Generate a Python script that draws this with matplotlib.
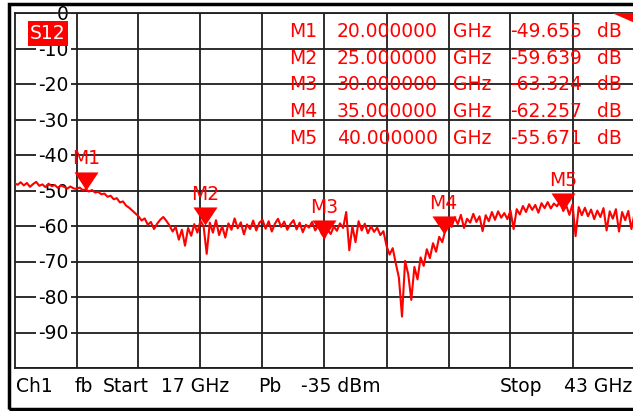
"""VNA screenshot style plot of S12 over 17-43 GHz with five markers."""

import matplotlib.pyplot as plt
import numpy as np
from matplotlib.path import Path
from matplotlib.patches import Polygon, Rectangle
from matplotlib.transforms import offset_copy

# sweep settings
freq_start = 17.0
freq_stop = 43.0
power_dbm = -35

# trace values (dB), evenly spaced over the sweep
s12_db = [
    -47.9, -48.3, -47.6, -48.5, -47.8, -48.9, -48.1, -47.5, -48.6, -48.2,
    -49.0, -48.0, -48.7, -48.4, -49.2, -48.5, -48.9, -49.4, -48.8, -49.3,
    -49.5, -49.1, -49.8, -49.6, -50.2, -49.8, -50.5, -50.3, -51.0, -50.8,
    -51.7, -51.4, -52.4, -52.1, -53.3, -53.0, -54.2, -54.8, -55.6, -56.4,
    -57.2, -58.4, -57.8, -59.6, -58.8, -60.8, -59.3, -58.2, -57.4, -58.5,
    -59.8, -61.5, -60.2, -63.8, -61.0, -65.5, -60.5, -62.7, -59.4, -61.8,
    -58.5, -60.0, -67.8, -59.0, -61.8, -58.3, -62.5, -60.0, -63.2, -59.2,
    -61.0, -57.8, -60.6, -58.9, -62.3, -59.5, -60.8, -58.4, -61.2, -59.0,
    -58.2, -60.7, -58.6, -61.5, -59.3, -57.9, -60.2, -58.7, -61.0, -59.4,
    -58.3, -60.9, -59.0, -61.7, -59.6, -60.4, -58.8, -61.2, -59.8, -62.0,
    -63.3, -61.0, -62.2, -60.1, -61.3, -59.2, -60.5, -56.0, -66.8, -60.0,
    -64.5, -58.6, -61.2, -59.3, -62.0, -60.0, -61.6, -60.4, -62.5, -61.4,
    -65.5, -68.0, -66.2, -70.5, -74.5, -85.5, -69.8, -73.5, -80.8, -71.5,
    -75.0, -68.8, -71.2, -66.5, -69.0, -64.8, -67.2, -63.0, -64.5, -61.0,
    -58.6, -60.2, -57.5, -59.4, -56.8, -60.5, -57.9, -59.0, -56.5, -58.8,
    -57.2, -61.4, -56.9, -58.6, -56.0, -58.2, -55.8, -57.6, -56.3, -58.0,
    -55.6, -60.8, -55.2, -56.7, -54.3, -56.0, -53.8, -55.4, -54.0, -56.2,
    -53.5, -54.9, -53.2, -55.0, -53.6, -54.4, -52.9, -55.7, -54.2, -56.8,
    -53.8, -62.8, -54.6, -56.9, -54.8, -57.2, -55.3, -58.0, -55.6, -57.4,
    -54.9, -61.2, -55.8, -57.9, -55.2, -61.5, -56.0, -58.3, -55.7, -60.8,
    -56.4,
]

marker_names = ["M1", "M2", "M3", "M4", "M5"]
marker_ghz = [20.0, 25.0, 30.0, 35.0, 40.0]
marker_db = [-49.655, -59.639, -63.324, -62.257, -55.671]

y_ticks = [0, -10, -20, -30, -40, -50, -60, -70, -80, -90]

W, H = 633, 411
FS = 13.5
GRID = "#1e1e1e"


def fx(px):
    return px / W


def fy(py):
    return 1 - py / H


def main():
    freqs = np.linspace(freq_start, freq_stop, len(s12_db))

    fig = plt.figure(figsize=(W / 100, H / 100), dpi=100)
    ax = fig.add_axes([fx(14.5), fy(368), 620 / W, (368 - 13.5) / H])
    ax.set_xlim(freq_start, freq_stop)
    ax.set_ylim(-100, 0)
    ax.set_xticks(np.linspace(freq_start, freq_stop, 11)[1:-1])
    ax.set_yticks(np.arange(-100, 1, 10))
    ax.tick_params(length=0, labelbottom=False, labelleft=False)
    ax.grid(True, color=GRID, lw=1.3)
    ax.set_axisbelow(True)
    for sp in ax.spines.values():
        sp.set_color(GRID)
        sp.set_linewidth(1.3)

    # scale labels sit on the grid lines in the first column
    lab_tr = offset_copy(ax.transData, fig, y=-4.9, units="points")
    for v in y_ticks:
        ax.text(19.27, v, str(v), ha="right", va="baseline", fontsize=FS,
                transform=lab_tr, zorder=2.5,
                bbox=dict(fc="white", ec="none", pad=1.5))

    ax.plot(freqs, s12_db, color="red", lw=1.5, zorder=3)

    tri = Path([(0, 0), (-12, 18), (12, 18), (0, 0)])
    ax.plot(marker_ghz, marker_db, ls="none", marker=tri, ms=26,
            mfc="red", mec="red", mew=0, zorder=4)
    for name, f, v in zip(marker_names, marker_ghz, marker_db):
        ax.annotate(name, (f, v), xytext=(0, 18.1), textcoords="offset points",
                    ha="center", va="baseline", color="red", fontsize=FS,
                    zorder=5)

    # trace tag
    ax.add_patch(Rectangle((17.566, -9.17), 1.678, 7.05, fc="red", ec="none",
                           zorder=6))
    ax.text(18.405, -5.64, "S12", color="white", ha="center", va="center",
            fontsize=FS, zorder=7)
    ax.add_patch(Polygon([[0.9637, 1], [1, 1], [1, 0.973]],
                         transform=ax.transAxes, fc="red", ec="none",
                         clip_on=False, zorder=6))

    # marker table
    for i, (name, f, v) in enumerate(zip(marker_names, marker_ghz, marker_db)):
        base = fy(37 + 26.75 * i)
        kw = dict(va="baseline", color="red", fontsize=FS)
        fig.text(fx(317), base, name, ha="right", **kw)
        fig.text(fx(337), base, f"{f:.6f}", ha="left", **kw)
        fig.text(fx(453), base, "GHz", ha="left", **kw)
        fig.text(fx(510), base, f"{v:.3f}", ha="left", **kw)
        fig.text(fx(622), base, "dB", ha="right", **kw)

    # channel line under the grid
    footer = [("Ch1", 16), ("fb", 75), ("Start", 103),
              (f"{freq_start:g} GHz", 161), ("Pb", 258),
              (f"{power_dbm} dBm", 301), ("Stop", 500)]
    for txt, x in footer:
        fig.text(fx(x), fy(392), txt, ha="left", va="baseline", fontsize=FS)
    fig.text(fx(632), fy(392), f"{freq_stop:g} GHz", ha="right",
             va="baseline", fontsize=FS)

    frame = Rectangle((fx(8.5), fy(409)), (640 - 8.5) / W, (409 - 4.5) / H,
                      transform=fig.transFigure, fill=False, ec="black",
                      lw=2.5, clip_on=False)
    fig.add_artist(frame)

    fig.savefig("out.png", dpi=100)


if __name__ == "__main__":
    main()
